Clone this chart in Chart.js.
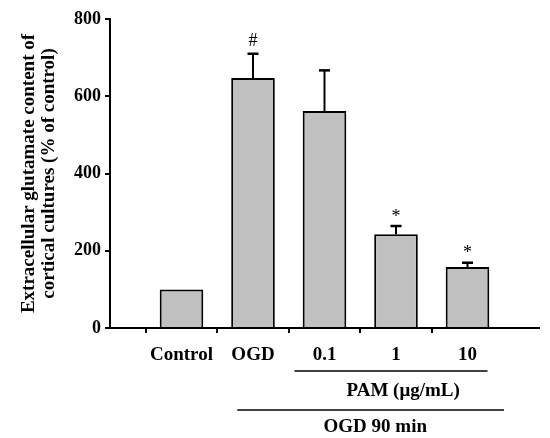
<!DOCTYPE html>
<html>
<head>
<meta charset="utf-8">
<script src="https://cdn.jsdelivr.net/npm/chart.js@4.4.1/dist/chart.umd.min.js"></script>
<style>
  html, body { margin: 0; padding: 0; background: #fff; }
  #wrap { width: 550px; height: 438px; position: relative; }
</style>
</head>
<body>
<div id="wrap"><canvas id="chartGlutamato"></canvas></div>
<script>
// Dados
const categorias = ["Control", "OGD", "0.1", "1", "10"];
const medias = [100, 647, 562, 243, 158];
const erros = [0, 63, 105, 21, 11];
const marcas = ["", "#", "", "*", "*"];
const ticksY = [0, 200, 400, 600, 800];
const grupos = ["PAM (μg/mL)", "OGD 90 min"];

const FONTE = '"Liberation Serif", "Times New Roman", serif';

// posições das chaves abaixo do eixo (em unidades de categoria)
const chaves = [
  { texto: grupos[0], de: 2.58, ate: 5.28, centro: 4.1, linhaY: 371, baseY: 396 },
  { texto: grupos[1], de: 1.78, ate: 5.51, centro: 3.71, linhaY: 410, baseY: 432 },
];

// categorias com uma posição vazia em cada ponta
const rotulos = ["", ...categorias, ""];
const dados = [null, ...medias, null];

const errorBars = {
  id: "errorBars",
  afterDatasetsDraw(chart) {
    const { ctx, scales } = chart;
    const meta = chart.getDatasetMeta(0);
    ctx.save();
    ctx.strokeStyle = "#000";
    ctx.fillStyle = "#000";
    medias.forEach((m, i) => {
      const bar = meta.data[i + 1];
      const x = bar.x;
      const yTopo = scales.y.getPixelForValue(m + erros[i]);
      if (erros[i] > 0) {
        ctx.lineWidth = 2;
        ctx.beginPath();
        ctx.moveTo(x, bar.y);
        ctx.lineTo(x, yTopo);
        ctx.stroke();
        ctx.lineWidth = 2.5;
        ctx.beginPath();
        ctx.moveTo(x - 5.5, yTopo);
        ctx.lineTo(x + 5.5, yTopo);
        ctx.stroke();
      }
      if (marcas[i]) {
        ctx.font = "18px " + FONTE;
        ctx.textAlign = "center";
        ctx.textBaseline = "alphabetic";
        const mt = ctx.measureText(marcas[i]);
        const centro = yTopo - 14;
        const base = centro + (mt.actualBoundingBoxAscent - mt.actualBoundingBoxDescent) / 2;
        ctx.fillText(marcas[i], x, base);
      }
    });

    // chaves de agrupamento
    ctx.lineWidth = 1.5;
    ctx.font = "bold 19px " + FONTE;
    ctx.textAlign = "center";
    ctx.textBaseline = "alphabetic";
    chaves.forEach((c) => {
      const x1 = scales.x.getPixelForValue(c.de);
      const x2 = scales.x.getPixelForValue(c.ate);
      ctx.beginPath();
      ctx.moveTo(x1, c.linhaY);
      ctx.lineTo(x2, c.linhaY);
      ctx.stroke();
      ctx.fillText(c.texto, scales.x.getPixelForValue(c.centro), c.baseY);
    });
    ctx.restore();
  },
};

new Chart(document.getElementById("chartGlutamato").getContext("2d"), {
  type: "bar",
  data: {
    labels: rotulos,
    datasets: [
      {
        data: dados,
        backgroundColor: "#c0c0c0",
        borderColor: "#000",
        borderWidth: 2,
        categoryPercentage: 1,
        barPercentage: 0.61,
      },
    ],
  },
  options: {
    responsive: true,
    maintainAspectRatio: false,
    animation: false,
    layout: { padding: { top: 19, right: 7, left: 0, bottom: 0 } },
    plugins: {
      legend: { display: false },
      tooltip: { enabled: false },
    },
    scales: {
      x: {
        offset: false,
        border: { color: "#000", width: 2 },
        grid: {
          drawOnChartArea: false,
          tickLength: 5,
          lineWidth: 2,
          color: (c) => (c.index === 0 || c.index === rotulos.length - 1 ? "rgba(0,0,0,0)" : "#000"),
        },
        ticks: {
          color: "#000",
          padding: 11,
          maxRotation: 0,
          autoSkip: false,
          font: { family: FONTE, size: 19, weight: "bold" },
        },
        afterFit: (s) => { s.height = 110; },
      },
      y: {
        min: 0,
        max: 800,
        border: { color: "#000", width: 2 },
        grid: { drawOnChartArea: false, tickLength: 5, lineWidth: 2, color: "#000" },
        afterBuildTicks: (s) => { s.ticks = ticksY.map((v) => ({ value: v })); },
        ticks: {
          color: "#000",
          padding: 4,
          font: { family: FONTE, size: 18, weight: "bold" },
        },
        title: {
          display: true,
          text: ["Extracellular glutamate content of", "cortical cultures (% of control)"],
          color: "#000",
          padding: { top: 19, bottom: 0 },
          font: { family: FONTE, size: 19, weight: "bold", lineHeight: 1.05 },
        },
        afterFit: (s) => { s.width = 110; },
      },
    },
  },
  plugins: [errorBars],
});
</script>
</body>
</html>
